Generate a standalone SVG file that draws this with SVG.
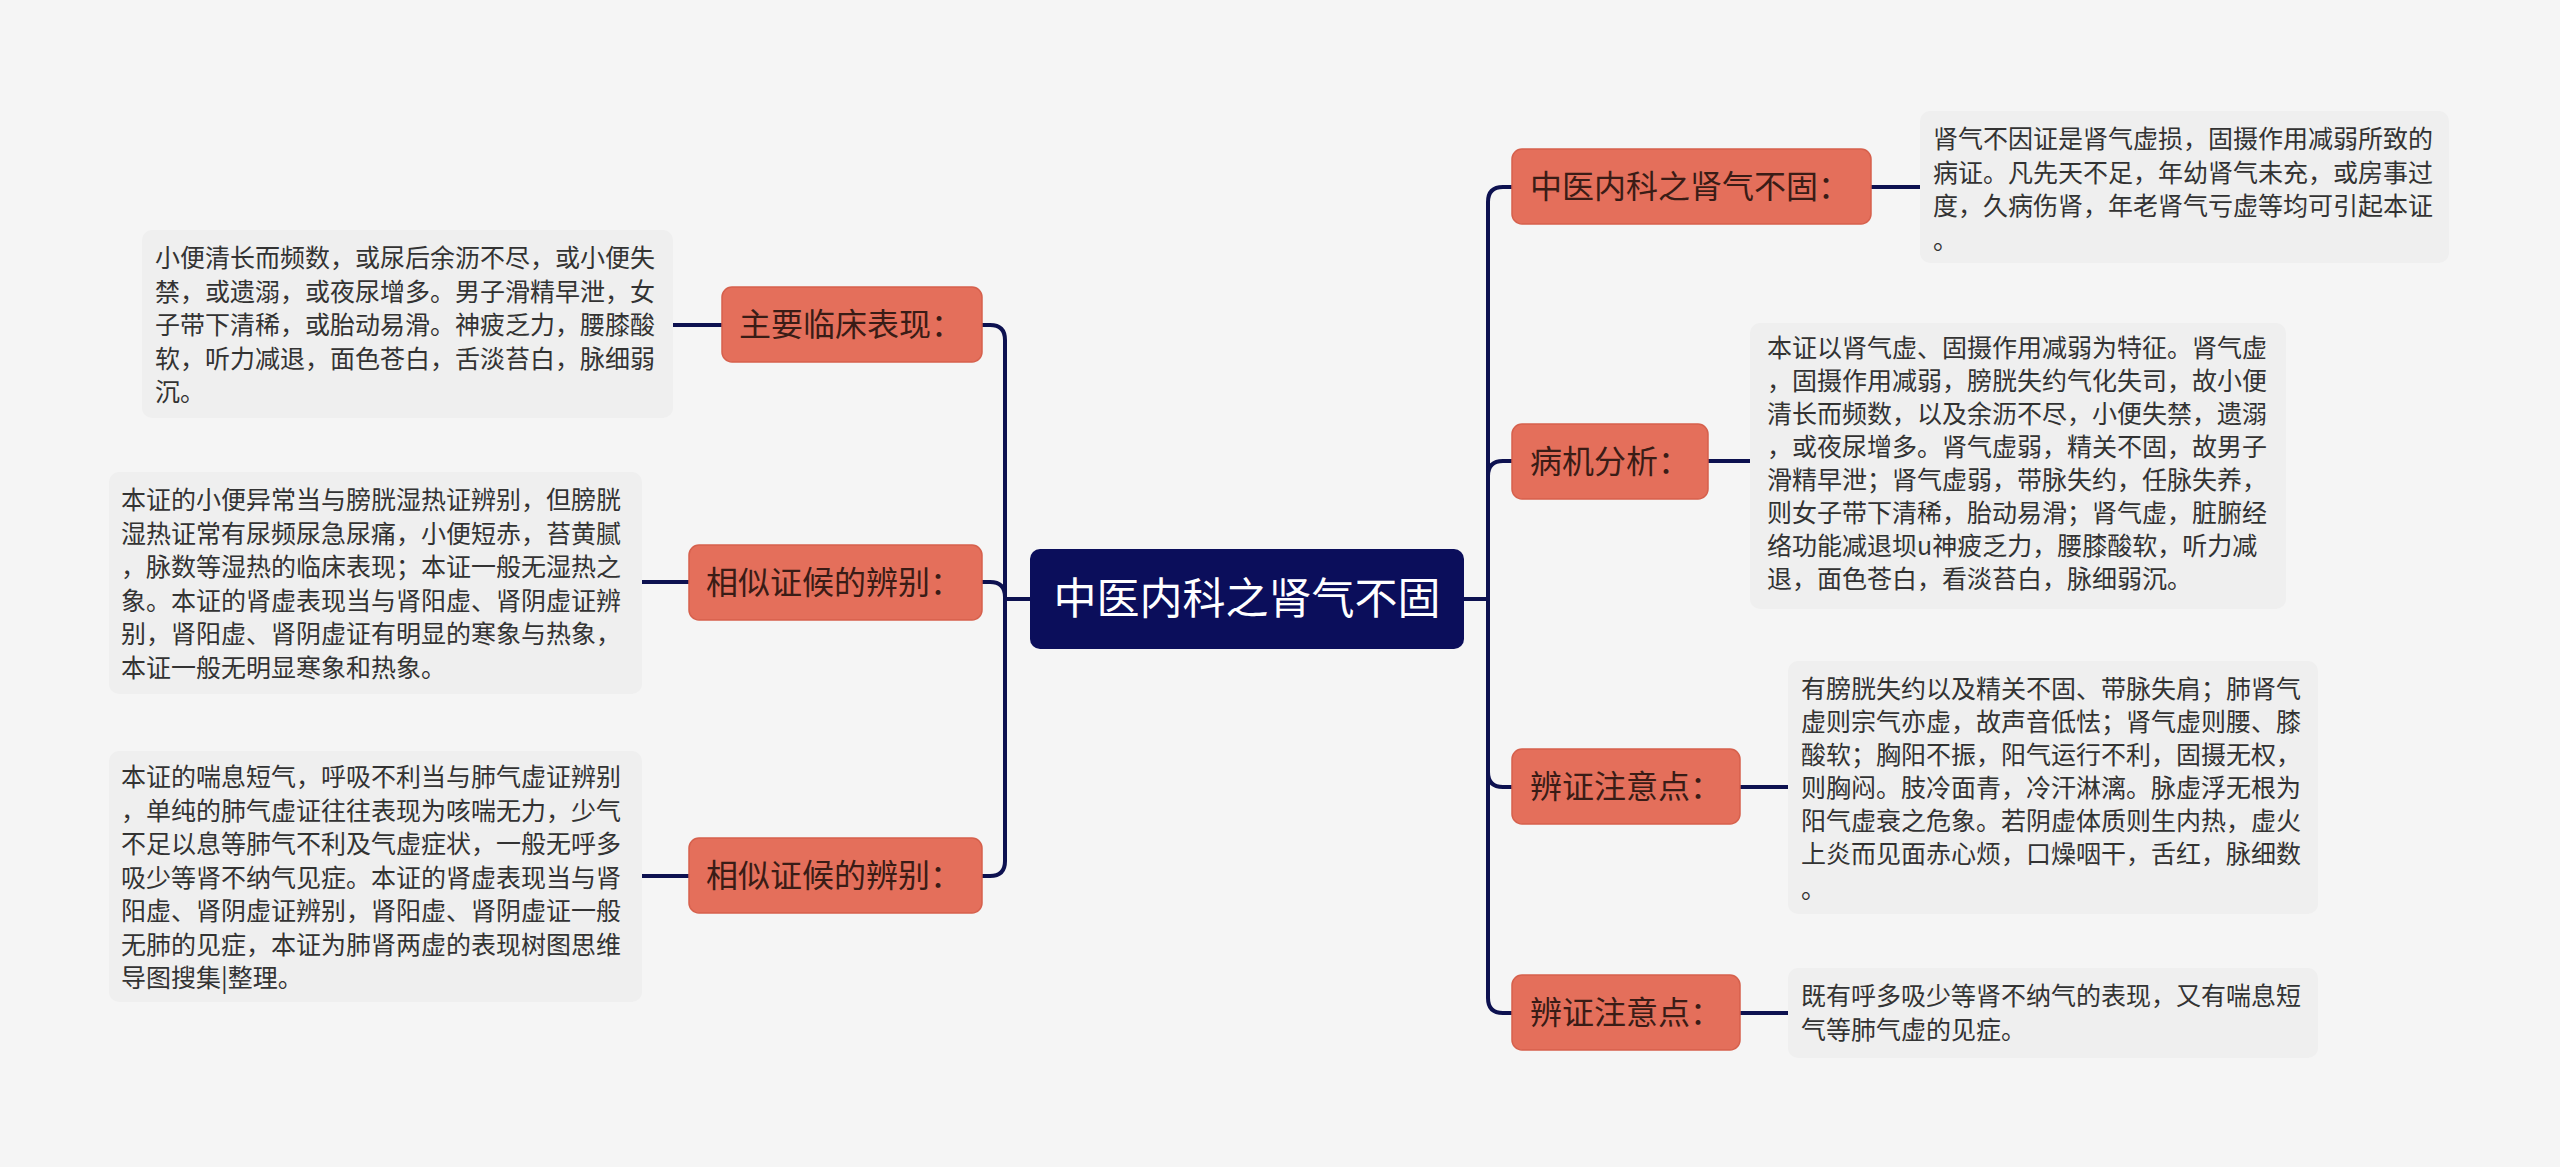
<svg xmlns="http://www.w3.org/2000/svg" width="2560" height="1167" viewBox="0 0 2560 1167">
<style>
.bg{fill:#f5f5f5}
.box{fill:#efefef}
.t{font-family:"Noto Sans CJK SC","Noto Sans",sans-serif;font-size:25px;fill:#333333}
.n{fill:#e46f5b;stroke:#d6604c;stroke-width:1.5}
.nt{font-family:"Noto Sans CJK SC","Noto Sans",sans-serif;font-size:32px;fill:#3a1c16}
.c{fill:#0b0e5b}
.ct{font-family:"Noto Sans CJK SC","Noto Sans",sans-serif;font-size:43px;fill:#ffffff}
.ln{fill:none;stroke:#0d1150;stroke-width:4}
</style>
<rect class="bg" x="0" y="0" width="2560" height="1167"/>
<g id="connectors">
<path class="ln" d="M1030,599 H1005 V340 Q1005,325 990,325 H982"/>
<path class="ln" d="M1030,599 H1005 V597 Q1005,582 990,582 H982"/>
<path class="ln" d="M1030,599 H1005 V861 Q1005,876 990,876 H982"/>
<path class="ln" d="M1464,599 H1488 V202 Q1488,187 1503,187 H1512"/>
<path class="ln" d="M1464,599 H1488 V476 Q1488,461 1503,461 H1512"/>
<path class="ln" d="M1464,599 H1488 V772 Q1488,787 1503,787 H1512"/>
<path class="ln" d="M1464,599 H1488 V998 Q1488,1013 1503,1013 H1512"/>
<path class="ln" d="M722,325 H673"/>
<path class="ln" d="M689,582 H642"/>
<path class="ln" d="M689,876 H642"/>
<path class="ln" d="M1871,187 H1920"/>
<path class="ln" d="M1708,461 H1750"/>
<path class="ln" d="M1740,787 H1788"/>
<path class="ln" d="M1740,1013 H1788"/>
</g>
<g id="center">
<rect class="c" x="1030" y="549" width="434" height="100" rx="10"/>
<text class="ct" x="1247" y="614" text-anchor="middle">中医内科之肾气不固</text>
</g>
<g id="left1">
<rect class="n" x="722" y="287" width="260" height="75" rx="10"/>
<text class="nt" x="739" y="336">主要临床表现：</text>
</g>
<g id="left1-text">
<rect class="box" x="142" y="230" width="531" height="188" rx="10"/>
<text class="t" x="155" y="267">小便清长而频数，或尿后余沥不尽，或小便失</text>
<text class="t" x="155" y="300.5">禁，或遗溺，或夜尿增多。男子滑精早泄，女</text>
<text class="t" x="155" y="334">子带下清稀，或胎动易滑。神疲乏力，腰膝酸</text>
<text class="t" x="155" y="367.5">软，听力减退，面色苍白，舌淡苔白，脉细弱</text>
<text class="t" x="155" y="401">沉。</text>
</g>
<g id="left2">
<rect class="n" x="689" y="545" width="293" height="75" rx="10"/>
<text class="nt" x="706" y="594">相似证候的辨别：</text>
</g>
<g id="left2-text">
<rect class="box" x="109" y="472" width="533" height="222" rx="10"/>
<text class="t" x="121" y="509">本证的小便异常当与膀胱湿热证辨别，但膀胱</text>
<text class="t" x="121" y="542.5">湿热证常有尿频尿急尿痛，小便短赤，苔黄腻</text>
<text class="t" x="121" y="576">，脉数等湿热的临床表现；本证一般无湿热之</text>
<text class="t" x="121" y="609.5">象。本证的肾虚表现当与肾阳虚、肾阴虚证辨</text>
<text class="t" x="121" y="643">别，肾阳虚、肾阴虚证有明显的寒象与热象，</text>
<text class="t" x="121" y="676.5">本证一般无明显寒象和热象。</text>
</g>
<g id="left3">
<rect class="n" x="689" y="838" width="293" height="75" rx="10"/>
<text class="nt" x="706" y="887">相似证候的辨别：</text>
</g>
<g id="left3-text">
<rect class="box" x="109" y="751" width="533" height="251" rx="10"/>
<text class="t" x="121" y="786">本证的喘息短气，呼吸不利当与肺气虚证辨别</text>
<text class="t" x="121" y="819.5">，单纯的肺气虚证往往表现为咳喘无力，少气</text>
<text class="t" x="121" y="853">不足以息等肺气不利及气虚症状，一般无呼多</text>
<text class="t" x="121" y="886.5">吸少等肾不纳气见症。本证的肾虚表现当与肾</text>
<text class="t" x="121" y="920">阳虚、肾阴虚证辨别，肾阳虚、肾阴虚证一般</text>
<text class="t" x="121" y="953.5">无肺的见症，本证为肺肾两虚的表现树图思维</text>
<text class="t" x="121" y="987">导图搜集|整理。</text>
</g>
<g id="right1">
<rect class="n" x="1512" y="149" width="359" height="75" rx="10"/>
<text class="nt" x="1530" y="198">中医内科之肾气不固：</text>
</g>
<g id="right1-text">
<rect class="box" x="1920" y="111" width="529" height="152" rx="10"/>
<text class="t" x="1933" y="148">肾气不因证是肾气虚损，固摄作用减弱所致的</text>
<text class="t" x="1933" y="181.5">病证。凡先天不足，年幼肾气未充，或房事过</text>
<text class="t" x="1933" y="215">度，久病伤肾，年老肾气亏虚等均可引起本证</text>
<text class="t" x="1933" y="248.5">。</text>
</g>
<g id="right2">
<rect class="n" x="1512" y="424" width="196" height="75" rx="10"/>
<text class="nt" x="1530" y="473">病机分析：</text>
</g>
<g id="right2-text">
<rect class="box" x="1750" y="323" width="536" height="286" rx="10"/>
<text class="t" x="1767" y="357">本证以肾气虚、固摄作用减弱为特征。肾气虚</text>
<text class="t" x="1767" y="390">，固摄作用减弱，膀胱失约气化失司，故小便</text>
<text class="t" x="1767" y="423">清长而频数，以及余沥不尽，小便失禁，遗溺</text>
<text class="t" x="1767" y="456">，或夜尿增多。肾气虚弱，精关不固，故男子</text>
<text class="t" x="1767" y="489">滑精早泄；肾气虚弱，带脉失约，任脉失养，</text>
<text class="t" x="1767" y="522">则女子带下清稀，胎动易滑；肾气虚，脏腑经</text>
<text class="t" x="1767" y="555">络功能减退坝u神疲乏力，腰膝酸软，听力减</text>
<text class="t" x="1767" y="588">退，面色苍白，看淡苔白，脉细弱沉。</text>
</g>
<g id="right3">
<rect class="n" x="1512" y="749" width="228" height="75" rx="10"/>
<text class="nt" x="1530" y="798">辨证注意点：</text>
</g>
<g id="right3-text">
<rect class="box" x="1788" y="661" width="530" height="253" rx="10"/>
<text class="t" x="1801" y="698">有膀胱失约以及精关不固、带脉失肩；肺肾气</text>
<text class="t" x="1801" y="731">虚则宗气亦虚，故声音低怯；肾气虚则腰、膝</text>
<text class="t" x="1801" y="764">酸软；胸阳不振，阳气运行不利，固摄无权，</text>
<text class="t" x="1801" y="797">则胸闷。肢冷面青，冷汗淋漓。脉虚浮无根为</text>
<text class="t" x="1801" y="830">阳气虚衰之危象。若阴虚体质则生内热，虚火</text>
<text class="t" x="1801" y="863">上炎而见面赤心烦，口燥咽干，舌红，脉细数</text>
<text class="t" x="1801" y="898">。</text>
</g>
<g id="right4">
<rect class="n" x="1512" y="975" width="228" height="75" rx="10"/>
<text class="nt" x="1530" y="1024">辨证注意点：</text>
</g>
<g id="right4-text">
<rect class="box" x="1788" y="968" width="530" height="90" rx="10"/>
<text class="t" x="1801" y="1005">既有呼多吸少等肾不纳气的表现，又有喘息短</text>
<text class="t" x="1801" y="1039">气等肺气虚的见症。</text>
</g>
</svg>
